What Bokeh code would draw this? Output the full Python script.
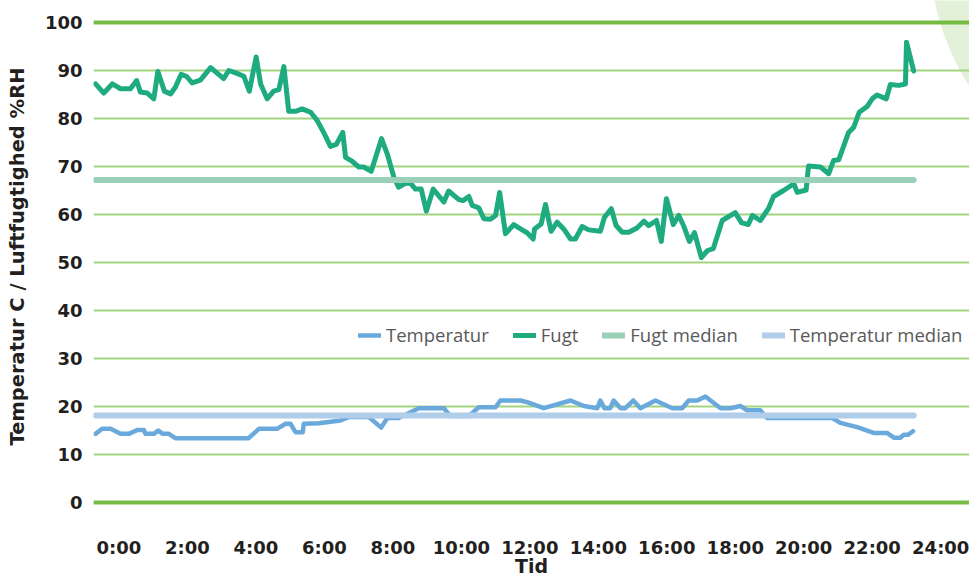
from bokeh.plotting import figure
from bokeh.models import Range1d, FixedTicker, Legend, LegendItem, Span
from bokeh.embed import file_html
from bokeh.resources import INLINE

# ---- data ----
fugt_time = [0.06, 0.30, 0.55, 0.79, 1.08, 1.26, 1.37, 1.57, 1.76, 1.88,
             2.07, 2.25, 2.39, 2.56, 2.72, 2.88, 3.12, 3.42, 3.80, 3.95,
             4.15, 4.39, 4.55, 4.75, 4.88, 5.07, 5.26, 5.41, 5.56, 5.70,
             5.90, 6.09, 6.34, 6.53, 6.72, 6.92, 7.09, 7.28, 7.36, 7.55,
             7.75, 7.89, 8.11, 8.41, 8.58, 8.77, 8.91, 9.11, 9.26, 9.40,
             9.57, 9.72, 9.92, 10.23, 10.37, 10.67, 10.79, 10.96, 11.06, 11.25,
             11.40, 11.59, 11.74, 11.86, 12.03, 12.27, 12.47, 12.66, 12.84, 12.88,
             13.07, 13.20, 13.36, 13.54, 13.73, 13.93, 14.07, 14.27, 14.46, 14.80,
             14.92, 15.12, 15.26, 15.44, 15.63, 15.87, 16.07, 16.21, 16.44, 16.58,
             16.73, 16.93, 17.09, 17.23, 17.40, 17.55, 17.75, 17.93, 18.10, 18.36,
             18.74, 18.92, 19.12, 19.24, 19.47, 19.71, 19.86, 20.15, 20.45, 20.55,
             20.81, 20.88, 21.23, 21.47, 21.61, 21.76, 22.05, 22.20, 22.36, 22.59,
             22.74, 22.88, 23.15, 23.27, 23.51, 23.71, 23.74, 23.95]
fugt = [87.2, 85.3, 87.2, 86.2, 86.2, 87.9, 85.5, 85.3, 84.1, 89.8,
        85.7, 85.1, 86.5, 89.2, 88.75, 87.4, 88.0, 90.6, 88.3, 90.0,
        89.5, 88.8, 85.7, 92.8, 87.2, 84.1, 85.7, 86.0, 90.8, 81.5,
        81.5, 82.0, 81.3, 79.6, 77.1, 74.2, 74.6, 77.1, 71.9, 71.1,
        69.9, 69.9, 69.0, 75.8, 72.6, 67.8, 65.7, 66.5, 66.5, 65.3,
        65.3, 60.7, 65.3, 62.6, 64.9, 63.1, 62.9, 63.75, 61.9, 61.4,
        59.1, 59.0, 59.8, 64.6, 56.0, 57.9, 57.0, 56.2, 54.9, 57.0,
        58.0, 62.1, 56.5, 58.4, 57.0, 54.9, 54.9, 57.5, 56.8, 56.5,
        59.4, 61.2, 57.7, 56.3, 56.3, 57.2, 58.6, 57.7, 58.75, 54.4,
        63.3, 57.9, 59.8, 57.7, 54.4, 56.2, 51.0, 52.5, 52.9, 58.75,
        60.4, 58.3, 57.9, 59.8, 58.75, 61.25, 63.75, 65.0, 66.4, 64.6,
        65.1, 70.1, 69.9, 68.5, 71.25, 71.4, 77.1, 78.2, 81.3, 82.5,
        84.1, 84.9, 84.1, 87.1, 86.9, 87.2, 95.9, 89.9]

temp_time = [0.06, 0.25, 0.50, 0.79, 1.03, 1.28, 1.47, 1.52, 1.76, 1.89,
             2.02, 2.20, 2.39, 4.53, 4.83, 5.36, 5.61, 5.75, 5.90, 6.11,
             6.14, 6.58, 7.21, 7.45, 8.04, 8.40, 8.58, 8.91, 9.50, 10.23,
             10.42, 10.96, 11.25, 11.74, 11.88, 12.47, 12.66, 13.15, 13.93, 14.32,
             14.71, 14.80, 14.92, 15.09, 15.19, 15.39, 15.53, 15.76, 15.97, 16.41,
             16.90, 17.19, 17.38, 17.63, 17.87, 18.31, 18.60, 18.89, 19.09, 19.47,
             19.67, 21.57, 21.81, 22.30, 22.78, 23.17, 23.37, 23.56, 23.66, 23.78,
             23.93]
temp = [14.3, 15.35, 15.35, 14.3, 14.3, 15.1, 15.1, 14.3, 14.3, 15.0,
        14.3, 14.3, 13.4, 13.4, 15.35, 15.35, 16.4, 16.4, 14.65, 14.65,
        16.4, 16.5, 17.1, 17.8, 17.8, 15.6, 17.6, 17.6, 19.65, 19.65,
        18.0, 18.0, 19.85, 19.85, 21.25, 21.25, 20.9, 19.65, 21.25, 20.1,
        19.65, 21.25, 19.65, 19.65, 21.25, 19.65, 19.65, 21.25, 19.65, 21.25,
        19.65, 19.65, 21.25, 21.25, 22.1, 19.65, 19.65, 20.1, 19.2, 19.2,
        17.6, 17.6, 16.6, 15.7, 14.5, 14.5, 13.5, 13.5, 14.1, 14.1,
        14.85]

fugt_median = 67.2
temp_median = 18.1

x_tick_pos = [0.74, 2.74, 4.74, 6.74, 8.74, 10.74, 12.74, 14.74, 16.74,
              18.74, 20.74, 22.74, 24.74]
x_tick_labels = ["0:00", "2:00", "4:00", "6:00", "8:00", "10:00", "12:00",
                 "14:00", "16:00", "18:00", "20:00", "22:00", "24:00"]
y_ticks = [0, 10, 20, 30, 40, 50, 60, 70, 80, 90, 100]

series_names = ["Temperatur", "Fugt", "Fugt median", "Temperatur median"]

# ---- colours ----
C_TEMP = "#6aa9dc"
C_FUGT = "#1fab80"
C_FUGT_MED = "#9bd0b8"
C_TEMP_MED = "#b0cdea"
C_GRID = "#a3d37f"
C_GRID_MAIN = "#76bb42"
C_TEXT = "#231f20"

p = figure(width=969, height=579, output_backend="svg", toolbar_location=None,
           x_range=Range1d(0, 25.58), y_range=Range1d(-2.083, 104.583),
           min_border_left=93, min_border_right=0, min_border_top=0,
           min_border_bottom=67)
p.outline_line_color = None
p.background_fill_color = "white"
p.border_fill_color = "white"

# decorative circle, top-right corner
p.scatter([31.74], [115.0], size=502, marker="circle", fill_color="#e4f1d9",
          line_color=None, level="image")

# grid
p.xgrid.grid_line_color = None
p.ygrid.grid_line_color = C_GRID
p.ygrid.grid_line_width = 2
for loc in (y_ticks[0], y_ticks[-1]):
    p.add_layout(Span(location=loc, dimension="width", line_color=C_GRID_MAIN,
                      line_width=4, level="underlay"))

# axes
p.yaxis.ticker = FixedTicker(ticks=y_ticks)
p.yaxis.axis_line_color = None
p.yaxis.major_tick_line_color = None
p.yaxis.minor_tick_line_color = None
p.yaxis.major_tick_out = 0
p.yaxis.major_tick_in = 0
p.yaxis.major_label_standoff = 11
p.yaxis.major_label_text_font = "DejaVu Sans"
p.yaxis.major_label_text_font_style = "bold"
p.yaxis.major_label_text_font_size = "18px"
p.yaxis.major_label_text_color = C_TEXT
p.yaxis.axis_label = "Temperatur C / Luftfugtighed %RH"
p.yaxis.axis_label_text_font = "DejaVu Sans"
p.yaxis.axis_label_text_font_style = "bold"
p.yaxis.axis_label_text_font_size = "19.5px"
p.yaxis.axis_label_text_color = C_TEXT
p.yaxis.axis_label_standoff = 13

p.xaxis.ticker = FixedTicker(ticks=x_tick_pos)
p.xaxis.major_label_overrides = dict(zip(x_tick_pos, x_tick_labels))
p.xaxis.axis_line_color = None
p.xaxis.major_tick_line_color = None
p.xaxis.minor_tick_line_color = None
p.xaxis.major_tick_out = 0
p.xaxis.major_tick_in = 0
p.xaxis.major_label_standoff = 24
p.xaxis.major_label_text_font = "DejaVu Sans"
p.xaxis.major_label_text_font_style = "bold"
p.xaxis.major_label_text_font_size = "18px"
p.xaxis.major_label_text_color = C_TEXT
p.xaxis.axis_label = "Tid"
p.xaxis.axis_label_text_font = "DejaVu Sans"
p.xaxis.axis_label_text_font_style = "bold"
p.xaxis.axis_label_text_font_size = "19px"
p.xaxis.axis_label_text_color = C_TEXT
p.xaxis.axis_label_standoff = -6

# series
t0 = min(fugt_time[0], temp_time[0])
t1 = max(fugt_time[-1], temp_time[-1])
r_temp = p.line(temp_time, temp, line_color=C_TEMP, line_width=4.5,
                line_join="round", line_cap="round")
r_fugt = p.line(fugt_time, fugt, line_color=C_FUGT, line_width=5,
                line_join="round", line_cap="round")
r_fmed = p.line([t0, t1], [fugt_median, fugt_median], line_color=C_FUGT_MED,
                line_width=6, line_cap="round")
r_tmed = p.line([t0, t1], [temp_median, temp_median], line_color=C_TEMP_MED,
                line_width=6, line_cap="round")

legend = Legend(items=[LegendItem(label=n, renderers=[r]) for n, r in
                       zip(series_names, [r_temp, r_fugt, r_fmed, r_tmed])],
                orientation="horizontal", location=(265, 165),
                padding=0, margin=0, spacing=24, label_standoff=5,
                glyph_width=23, glyph_height=8,
                border_line_color=None, background_fill_alpha=0,
                label_text_font="Open Sans", label_text_font_size="18.5px",
                label_text_color="#595959")
p.add_layout(legend)

open("out.html", "w").write(file_html(p, INLINE))
